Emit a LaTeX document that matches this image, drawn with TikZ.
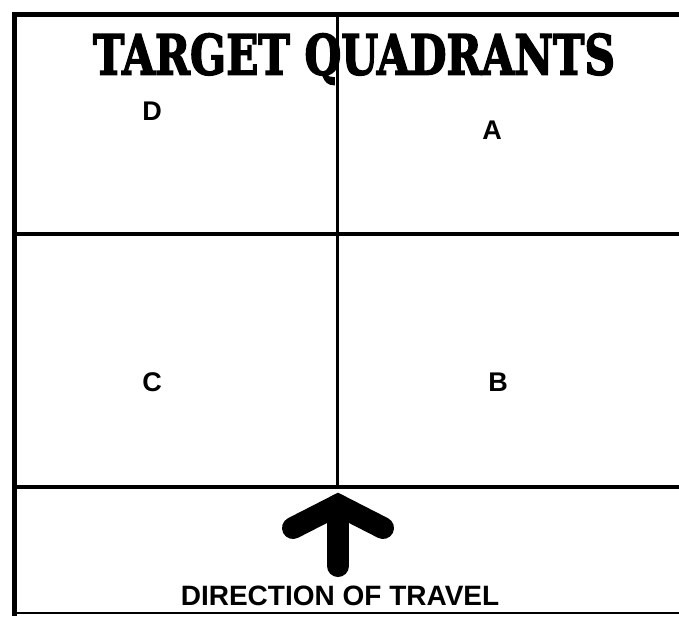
\documentclass[tikz,border=0pt]{standalone}
\usepackage{fontspec}
\setmainfont{Liberation Sans}
\newfontfamily\titlefont[BoldFeatures={FakeBold=3}]{DejaVu Serif}
\usepackage{graphicx}
\usetikzlibrary{positioning}

\begin{document}
\begin{tikzpicture}[x=1pt,y=-1pt,
  frame/.style={line width=5pt,line cap=rect},
  grid/.style={line width=3.6pt},
  quad/.style={font=\fontsize{27}{30}\selectfont\bfseries,inner sep=0pt},
  travel/.style={line width=22pt,line cap=round,line join=miter}]
  \useasboundingbox (0,0) rectangle (679,616);
  % outer frame, open to the right
  \draw[frame] (679,14) -- (14,14) -- (14,613);
  \draw[line width=2.6pt] (14,613) -- (679,613);
  % quadrant lines
  \draw[grid] (14,234) -- (679,234);
  \draw[grid] (14,487) -- (679,487);
  \draw[line width=3pt] (337,14) -- (337,487);
  \node (title) at (354,59)
    {\resizebox{522pt}{41pt}{\titlefont\bfseries TARGET QUADRANTS}};
  \node[quad] (qd) at (152,111) {D};
  \node[quad] (qa) at (492,130) {A};
  \node[quad] (qc) at (152,382) {C};
  \node[quad] (qb) at (498,382) {B};
  % direction arrow
  \draw[travel] (293,528) -- (338,505) -- (383,528);
  \draw[travel] (338,505) -- (338,566);
  \node[quad,font=\fontsize{28}{30}\selectfont\bfseries] (dir) at (340,596)
    {DIRECTION OF TRAVEL};
\end{tikzpicture}
\end{document}
